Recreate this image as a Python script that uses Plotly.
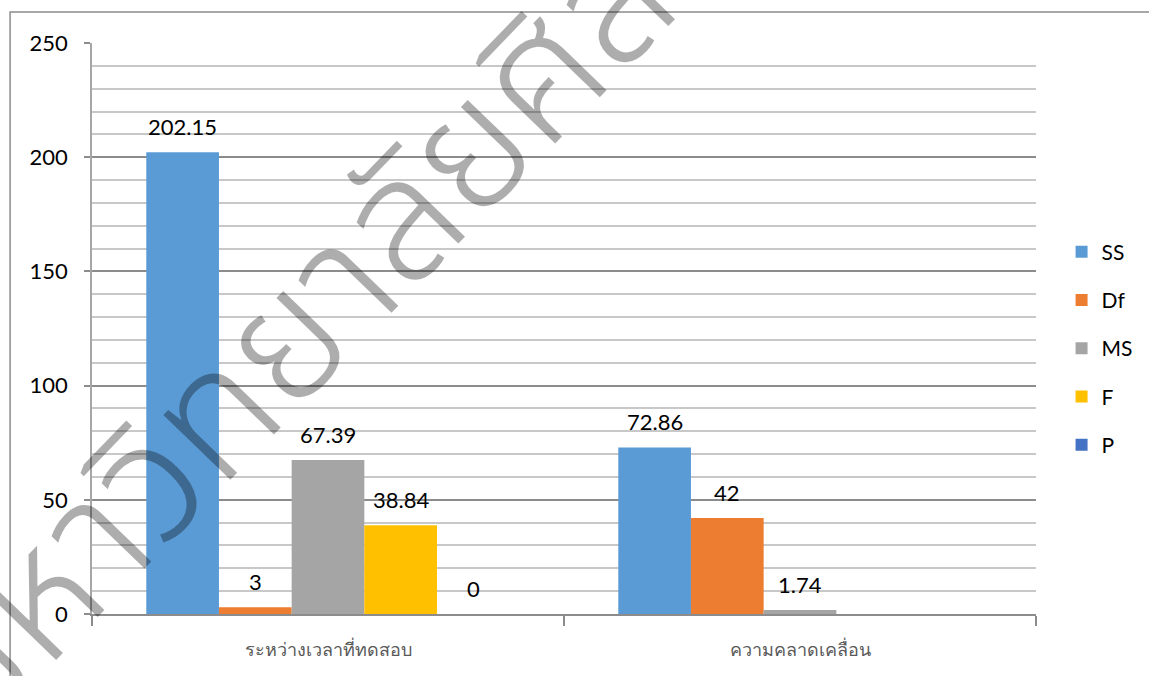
import plotly.graph_objects as go

categories = ["ระหว่างเวลาที่ทดสอบ", "ความคลาดเคลื่อน"]
series_names = ["SS", "Df", "MS", "F", "P"]
ss_values = [202.15, 72.86]
df_values = [3, 42]
ms_values = [67.39, 1.74]
f_values = [38.84, None]
p_values = [0, None]
series_values = [ss_values, df_values, ms_values, f_values, p_values]
colors = ["#5B9BD5", "#ED7D31", "#A5A5A5", "#FFC000", "#4472C4"]
y_ticks = [0, 50, 100, 150, 200, 250]
watermark = "มหาวิทยาลัยศิลปากร"

BARGAP = 0.23
FONT = "Lato, 'Noto Sans', sans-serif"

fig = go.Figure()
for i, (name, vals, col) in enumerate(zip(series_names, series_values, colors)):
    fig.add_trace(go.Bar(
        name=name, x=categories, y=vals, marker=dict(color=col, line=dict(width=0)),
        legendgroup=name,
    ))

# data labels placed above bars
n = len(series_names)
bw = (1 - BARGAP) / n
annotations = []
for i, vals in enumerate(series_values):
    for ci, v in enumerate(vals):
        if v is None:
            continue
        xpos = ci - (1 - BARGAP) / 2 + bw * (i + 0.5)
        annotations.append(dict(
            x=xpos, y=v, xref="x", yref="y", text=f"{v:g}", showarrow=False,
            yanchor="middle", yshift=26, font=dict(family=FONT, size=22, color="#000000"),
        ))

# watermark
annotations.append(dict(
    x=0.342, y=0.70, xref="paper", yref="paper", text=watermark, showarrow=False,
    textangle=-46, font=dict(family="'Noto Sans Thai', 'Noto Sans', sans-serif", size=170,
                             color="rgba(0,0,0,0.32)", weight=300),
    xanchor="center", yanchor="middle",
))

fig.update_layout(
    width=1149, height=676,
    margin=dict(l=92, r=112, t=43, b=62),
    paper_bgcolor="white", plot_bgcolor="white",
    barmode="group", bargap=BARGAP, bargroupgap=0,
    font=dict(family=FONT, size=22, color="#000000"),
    showlegend=True,
    legend=dict(x=1.026, y=0.465, xanchor="left", yanchor="middle",
                font=dict(family=FONT, size=21, color="#000000"),
                tracegroupgap=18, bgcolor="rgba(0,0,0,0)"),
    annotations=annotations,
    shapes=[dict(type="rect", xref="paper", yref="paper",
                 x0=(10 - 92) / 945, x1=1.2, y0=-0.3, y1=(614 - 12) / 571,
                 line=dict(color="#8c8c8c", width=1.5), layer="below")],
)

fig.update_xaxes(
    type="category", showgrid=False, showline=True, linecolor="#8c8c8c", linewidth=1.5,
    ticks="outside", tickson="boundaries", ticklen=10, tickcolor="#8c8c8c", tickwidth=1.5,
    tickfont=dict(family=FONT, size=18, color="#595959"), ticklabelstandoff=19,
)
fig.update_yaxes(
    range=[0, 250], tickvals=y_ticks, showgrid=True, gridcolor="#8c8c8c", gridwidth=1.5,
    showline=True, linecolor="#a6a6a6", linewidth=1.5, zeroline=False,
    ticks="outside", ticklen=6, tickcolor="#8c8c8c", tickwidth=1.5,
    tickfont=dict(family=FONT, size=22, color="#000000"), ticklabelstandoff=12,
    minor=dict(dtick=10, showgrid=True, gridcolor="#c8c8c8", gridwidth=1.5),
)

fig.write_html("out.html")
